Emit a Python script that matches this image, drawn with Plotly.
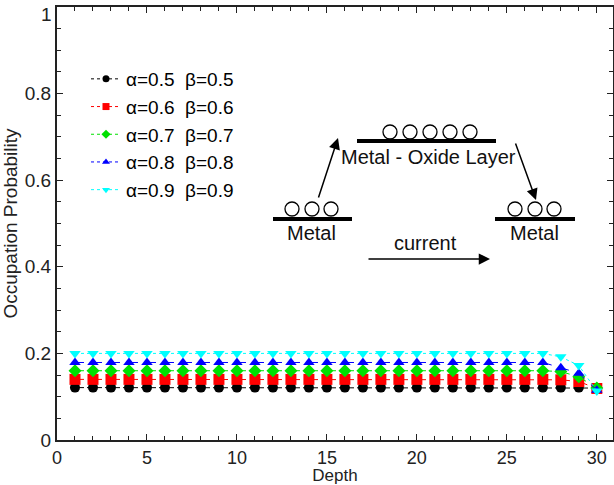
import plotly.graph_objects as go

depth = list(range(1, 31))
p05 = [0.121, 0.121, 0.121, 0.121, 0.121, 0.121, 0.121, 0.121, 0.121, 0.121,
       0.121, 0.121, 0.121, 0.121, 0.121, 0.121, 0.121, 0.121, 0.121, 0.121,
       0.121, 0.121, 0.121, 0.121, 0.121, 0.121, 0.121, 0.121, 0.121, 0.120]
p06 = [0.140, 0.140, 0.140, 0.140, 0.140, 0.140, 0.140, 0.140, 0.140, 0.140,
       0.140, 0.140, 0.140, 0.140, 0.140, 0.140, 0.140, 0.140, 0.140, 0.140,
       0.140, 0.140, 0.140, 0.140, 0.140, 0.140, 0.140, 0.139, 0.135, 0.119]
p07 = [0.160, 0.160, 0.160, 0.160, 0.160, 0.160, 0.160, 0.160, 0.160, 0.160,
       0.160, 0.160, 0.160, 0.160, 0.160, 0.160, 0.160, 0.160, 0.160, 0.160,
       0.160, 0.160, 0.160, 0.160, 0.160, 0.160, 0.160, 0.158, 0.146, 0.120]
p08 = [0.179, 0.179, 0.179, 0.179, 0.179, 0.179, 0.179, 0.179, 0.179, 0.179,
       0.179, 0.179, 0.179, 0.179, 0.179, 0.179, 0.179, 0.179, 0.179, 0.179,
       0.179, 0.179, 0.179, 0.179, 0.179, 0.179, 0.179, 0.167, 0.154, 0.115]
p09 = [0.200, 0.200, 0.200, 0.200, 0.200, 0.200, 0.200, 0.200, 0.200, 0.200,
       0.200, 0.200, 0.200, 0.200, 0.200, 0.200, 0.200, 0.200, 0.200, 0.200,
       0.200, 0.200, 0.200, 0.200, 0.200, 0.200, 0.200, 0.192, 0.172, 0.113]

series_names = ["α=0.5\u00a0 β=0.5", "α=0.6\u00a0 β=0.6", "α=0.7\u00a0 β=0.7",
                "α=0.8\u00a0 β=0.8", "α=0.9\u00a0 β=0.9"]
series_values = [p05, p06, p07, p08, p09]
colors = ["#000000", "#ff0000", "#00e000", "#0000ff", "#00ffff"]
symbols = ["circle", "square", "diamond", "triangle-up", "triangle-down"]
msizes = [10, 11, 10, 10, 10]
dashes = ["dashdot", "dash", "dash", "dash", "dot"]

y_tickvals = [0, 0.2, 0.4, 0.6, 0.8]
y_ticktext = ["0", "0.2", "0.4", "0.6", "0.8"]
y_top_label = "1"

W, H = 614, 485
L, R, T, B = 57, 1, 7, 45
PW, PH = W - L - R, H - T - B

def px(x):
    return (x - L) / PW

def py(y):
    return (H - B - y) / PH

FONT = "Arial, Liberation Sans, sans-serif"
FS = 19

fig = go.Figure()
for name, vals, c, s, ms, d in zip(series_names, series_values, colors, symbols, msizes, dashes):
    fig.add_trace(go.Scatter(
        x=depth, y=vals, name=name, mode="lines+markers", showlegend=False,
        line=dict(color=c, width=1, dash=d),
        marker=dict(color=c, symbol=s, size=ms, line=dict(width=0)),
    ))
for name, c, s, d in zip(series_names, colors, symbols, dashes):
    fig.add_trace(go.Scatter(
        x=[None], y=[None], name=name, mode="lines+markers",
        line=dict(color=c, width=1, dash="dot"),
        marker=dict(color=c, symbol=s, size=7, line=dict(width=0)),
    ))

shapes = []
for x0, x1, y in [(273, 352, 219), (357, 496, 141), (495, 575, 219)]:
    shapes.append(dict(type="line", xref="paper", yref="paper",
                       x0=px(x0), x1=px(x1), y0=py(y), y1=py(y),
                       line=dict(color="black", width=4)))
r = 7
circ = [(292, 209), (312, 209), (331, 209),
        (390, 132), (410, 132), (430, 132), (450, 132), (470, 132),
        (515, 209), (535, 209), (554, 209)]
for cx, cy in circ:
    shapes.append(dict(type="circle", xref="paper", yref="paper",
                       x0=px(cx - r), x1=px(cx + r), y0=py(cy + r), y1=py(cy - r),
                       line=dict(color="black", width=1.3)))

annotations = []
for txt, tx, ty in [("Metal", 311, 233), ("Metal - Oxide Layer", 428, 157),
                    ("Metal", 534, 233), ("current", 425, 243)]:
    annotations.append(dict(text=txt, xref="paper", yref="paper", x=px(tx), y=py(ty),
                            showarrow=False, xanchor="center", yanchor="middle",
                            font=dict(family=FONT, size=20, color="#111111")))
for (tx, ty), (hx, hy) in [((367, 259), (490, 259)), ((318, 199), (338, 138)),
                           ((515, 142), (536, 200))]:
    annotations.append(dict(text="", xref="paper", yref="paper", x=px(hx), y=py(hy),
                            ax=tx - hx, ay=ty - hy, showarrow=True, arrowhead=2,
                            arrowsize=1.5, arrowwidth=1.5, arrowcolor="black"))
annotations.append(dict(text=y_top_label, xref="paper", yref="y", x=0, y=1,
                        xanchor="right", yanchor="top", xshift=-3, yshift=5,
                        showarrow=False, font=dict(family=FONT, size=FS, color="#222222")))

axis_common = dict(showline=True, linecolor="#222222", linewidth=2, mirror="ticks",
                   ticks="inside", tickcolor="#222222", ticklen=6, tickwidth=1.3,
                   showgrid=False, zeroline=False, automargin=False)

fig.update_layout(
    width=W, height=H,
    margin=dict(l=L, r=R, t=T, b=B),
    paper_bgcolor="white", plot_bgcolor="white",
    font=dict(family=FONT, size=FS, color="#222222"),
    xaxis=dict(range=[0, 30.9], dtick=5, tick0=0,
               minor=dict(dtick=1, ticks="inside", ticklen=4, tickcolor="#222222"),
               tickfont=dict(family=FONT, size=18, color="#222222"),
               title=dict(text="Depth", font=dict(family=FONT, size=17), standoff=6),
               **axis_common),
    yaxis=dict(range=[0, 1], tickmode="array", tickvals=y_tickvals, ticktext=y_ticktext,
               minor=dict(tickmode="linear", tick0=0, dtick=0.05, ticks="inside",
                          ticklen=4, tickcolor="#222222"),
               tickfont=dict(family=FONT, size=FS, color="#222222"),
               title=dict(text="Occupation Probability", font=dict(family=FONT, size=FS), standoff=4),
               **axis_common),
    legend=dict(x=px(86), y=py(60), xanchor="left", yanchor="top",
                bgcolor="rgba(0,0,0,0)", itemsizing="trace", itemwidth=30,
                font=dict(family=FONT, size=FS, color="black")),
    shapes=shapes, annotations=annotations,
)

fig.write_html("out.html")
